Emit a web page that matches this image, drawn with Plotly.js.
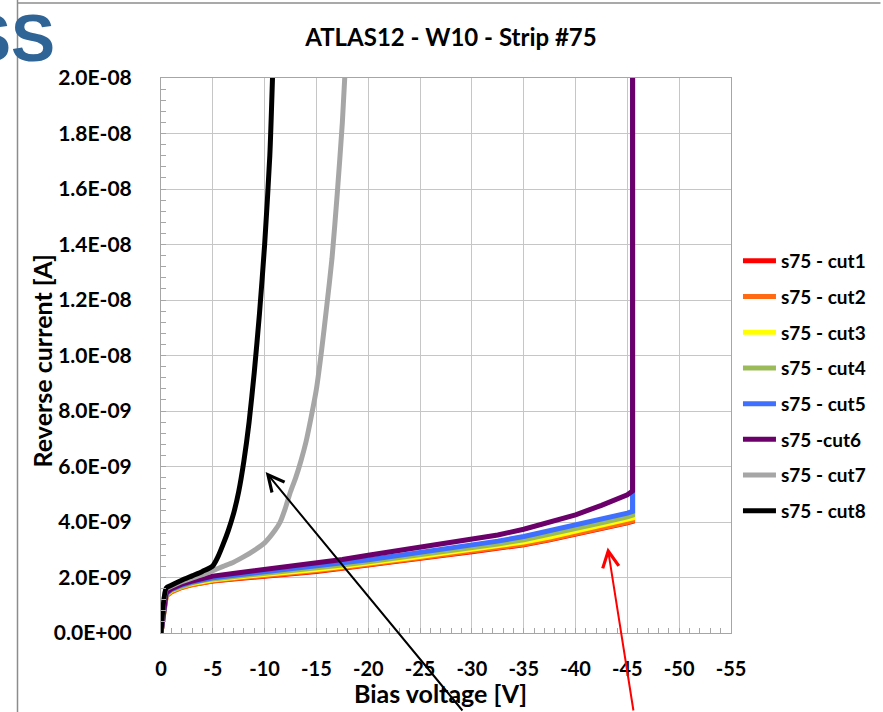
<!DOCTYPE html>
<html>
<head>
<meta charset="utf-8">
<script src="https://cdn.plot.ly/plotly-3.0.1.min.js"></script>
<style>
  html, body { margin: 0; padding: 0; background: #ffffff; }
  #chart { width: 883px; height: 712px; }
</style>
</head>
<body>
<div id="chart"></div>
<script>
// ---- Data (voltage in V, current in nA = 1E-09 A) ----
const seriesNames = ["s75 - cut1", "s75 - cut2", "s75 - cut3", "s75 - cut4",
                     "s75 - cut5", "s75 -cut6", "s75 - cut7", "s75 - cut8"];
const seriesColors = ["#ff0000", "#ff6a13", "#ffff00", "#9bbb59",
                      "#3f6fff", "#6b006b", "#a6a6a6", "#000000"];

const bundleV = [0, -0.5, -1, -2, -3, -4, -5, -7.5, -10, -12.5, -15, -17.5, -20,
                 -22.5, -25, -27.5, -30, -32.5, -35, -37.5, -40, -42.5, -45, -45.5, -45.5];
const cut1 = [0, 1.35, 1.5, 1.65, 1.75, 1.82, 1.87, 1.96, 2.04, 2.13, 2.22, 2.33, 2.44,
              2.56, 2.69, 2.81, 2.93, 3.05, 3.18, 3.36, 3.55, 3.76, 3.97, 4.02, 25];
const cut2 = [0, 1.33, 1.48, 1.64, 1.74, 1.82, 1.88, 1.98, 2.06, 2.15, 2.24, 2.35, 2.46,
              2.58, 2.71, 2.83, 2.95, 3.07, 3.2, 3.38, 3.57, 3.78, 3.99, 4.05, 25];
const cut3 = [0, 1.38, 1.53, 1.68, 1.78, 1.86, 1.92, 2.02, 2.1, 2.19, 2.29, 2.4, 2.51,
              2.63, 2.76, 2.89, 3.01, 3.14, 3.28, 3.46, 3.66, 3.87, 4.08, 4.14, 25];
const cut4 = [0, 1.4, 1.55, 1.7, 1.81, 1.89, 1.95, 2.05, 2.14, 2.24, 2.34, 2.45, 2.57,
              2.69, 2.82, 2.95, 3.08, 3.21, 3.36, 3.55, 3.75, 3.97, 4.19, 4.25, 25];
const cut5 = [0, 1.42, 1.57, 1.73, 1.84, 1.93, 1.99, 2.1, 2.2, 2.3, 2.4, 2.52, 2.64,
              2.77, 2.9, 3.03, 3.16, 3.31, 3.48, 3.68, 3.9, 4.11, 4.32, 4.38, 25];
const cut6 = [0, 1.45, 1.6, 1.76, 1.87, 1.97, 2.05, 2.17, 2.28, 2.4, 2.5, 2.65, 2.8,
              2.95, 3.09, 3.22, 3.36, 3.53, 3.74, 3.98, 4.26, 4.6, 4.98, 5.12, 25];

const cut7V = [0, -0.5, -1, -2, -3, -4, -5, -6, -7, -8, -9, -10, -11, -11.5, -12, -12.5,
               -13, -13.5, -14, -14.5, -15, -15.5, -16, -16.5, -17, -17.5, -17.8];
const cut7 = [0, 1.58, 1.68, 1.85, 1.98, 2.1, 2.25, 2.4, 2.55, 2.75, 2.98, 3.25, 3.7, 4.0,
              4.5, 5.1, 5.6, 6.2, 6.9, 7.8, 8.8, 10.2, 11.8, 13.5, 15.8, 18.4, 20.5];

const cut8V = [0, -0.5, -1, -2, -3, -4, -5, -5.5, -6, -6.5, -7, -7.5, -8, -8.5, -9, -9.5,
               -10, -10.5, -10.8];
const cut8 = [0, 1.62, 1.72, 1.9, 2.06, 2.22, 2.42, 2.75, 3.2, 3.7, 4.3, 5.1, 6.2, 7.6, 9.4,
              11.5, 14.0, 17.2, 20.5];

const xTickVals = [0, -5, -10, -15, -20, -25, -30, -35, -40, -45, -50, -55];
const xTickText = ["0", "-5", "-10", "-15", "-20", "-25", "-30", "-35", "-40", "-45", "-50", "-55"];
const yTickVals = [0, 2, 4, 6, 8, 10, 12, 14, 16, 18, 20];
const yTickText = ["0.0E+00", "2.0E-09", "4.0E-09", "6.0E-09", "8.0E-09", "1.0E-08",
                   "1.2E-08", "1.4E-08", "1.6E-08", "1.8E-08", "2.0E-08"];

// ---- Build traces ----
const xs = [bundleV, bundleV, bundleV, bundleV, bundleV, bundleV, cut7V, cut8V];
const ys = [cut1, cut2, cut3, cut4, cut5, cut6, cut7, cut8];
const widths = [5, 5, 5, 5, 5, 5, 5, 5];
const shapes = ["linear", "linear", "linear", "linear", "linear", "linear", "spline", "spline"];

const traces = seriesNames.map((name, i) => ({
  type: "scatter",
  mode: "lines",
  x: xs[i],
  y: ys[i],
  name: name,
  legendgroup: "g" + i,
  line: { color: seriesColors[i], width: widths[i], shape: shapes[i], smoothing: 0.6 },
  hoverinfo: "skip"
}));

// ---- Layout geometry (plot area: x 161..733, y 78..633) ----
const L = 161, R = 733, T = 78, B = 633;
const px = (p) => (p - L) / (R - L);
const py = (p) => (B - p) / (B - T);

const FONT = "Lato, 'Open Sans', 'DejaVu Sans', sans-serif";

const layout = {
  width: 883,
  height: 712,
  margin: { l: L, r: 883 - R, t: T, b: 712 - B, pad: 0 },
  paper_bgcolor: "#ffffff",
  plot_bgcolor: "#ffffff",
  font: { family: FONT, color: "#000000", size: 16, weight: "bold" },
  title: {
    text: "<b>ATLAS12 - W10 - Strip #75</b>",
    font: { family: FONT, size: 24, color: "#000000", weight: "bold" },
    x: px(452), xref: "paper", xanchor: "center",
    y: 1 - 38 / 712, yref: "container", yanchor: "middle"
  },
  xaxis: {
    range: [0, -55],
    tickvals: xTickVals,
    ticktext: xTickText,
    tickfont: { family: FONT, size: 20, color: "#000000", weight: "bold" },
    showgrid: true, gridcolor: "#c6c6c6", gridwidth: 1,
    zeroline: false,
    showline: true, linecolor: "#a6a6a6", linewidth: 1, mirror: true,
    ticks: "inside", ticklen: 5, tickcolor: "#a6a6a6",
    minor: { dtick: 1, ticks: "inside", ticklen: 5, tickcolor: "#a6a6a6", showgrid: false },
    ticklabelstandoff: 18,
    title: { text: "" },
    automargin: false
  },
  yaxis: {
    range: [0, 20],
    tickvals: yTickVals,
    ticktext: yTickText,
    tickfont: { family: FONT, size: 21, color: "#000000", weight: "bold" },
    showgrid: true, gridcolor: "#c6c6c6", gridwidth: 1,
    zeroline: false,
    showline: true, linecolor: "#a6a6a6", linewidth: 1, mirror: true,
    ticks: "inside", ticklen: 5, tickcolor: "#a6a6a6",
    minor: { dtick: 0.4, ticks: "inside", ticklen: 5, tickcolor: "#a6a6a6", showgrid: false },
    ticklabelstandoff: 24,
    title: { text: "" },
    automargin: false
  },
  showlegend: true,
  legend: {
    x: px(740), xanchor: "left",
    y: py(242), yanchor: "top",
    bgcolor: "rgba(0,0,0,0)",
    borderwidth: 0,
    itemwidth: 33,
    tracegroupgap: 8,
    font: { family: FONT, size: 19, color: "#000000", weight: "bold" },
    traceorder: "grouped"
  },
  shapes: [
    { type: "line", xref: "paper", yref: "paper", x0: px(17), x1: px(17), y0: py(0), y1: py(712),
      line: { color: "#8c8c8c", width: 1.5 }, layer: "below" },
    { type: "line", xref: "paper", yref: "paper", x0: px(17), x1: px(883), y0: py(3), y1: py(3),
      line: { color: "#8c8c8c", width: 1.5 }, layer: "below" }
  ],
  annotations: [
    { text: "<b>SS</b>", xref: "paper", yref: "paper", x: px(57), y: py(38),
      xanchor: "right", yanchor: "middle", showarrow: false,
      font: { family: "'Liberation Sans', Arial, sans-serif", size: 66, color: "#2f6497", weight: "bold" } },
    { text: "<b>Bias voltage [V]</b>", xref: "paper", yref: "paper", x: px(441), y: py(693),
      xanchor: "center", yanchor: "middle", showarrow: false,
      font: { family: FONT, size: 25, color: "#000000", weight: "bold" } },
    { text: "<b>Reverse current [A]</b>", xref: "paper", yref: "paper", x: px(42), y: py(361),
      xanchor: "center", yanchor: "middle", showarrow: false, textangle: -90,
      font: { family: FONT, size: 25, color: "#000000", weight: "bold" } },
    { text: "", xref: "x", yref: "y", x: -10.1, y: 5.8, ax: 198, ay: 240,
      showarrow: true, arrowhead: 5, arrowsize: 1.6, arrowwidth: 2, arrowcolor: "#000000", standoff: 0 },
    { text: "", xref: "x", yref: "y", x: -43.1, y: 3.08, ax: 26, ay: 165,
      showarrow: true, arrowhead: 5, arrowsize: 1.6, arrowwidth: 2, arrowcolor: "#ff0000", standoff: 0 }
  ]
};

Plotly.newPlot("chart", traces, layout, { displayModeBar: false, staticPlot: true });
</script>
</body>
</html>
